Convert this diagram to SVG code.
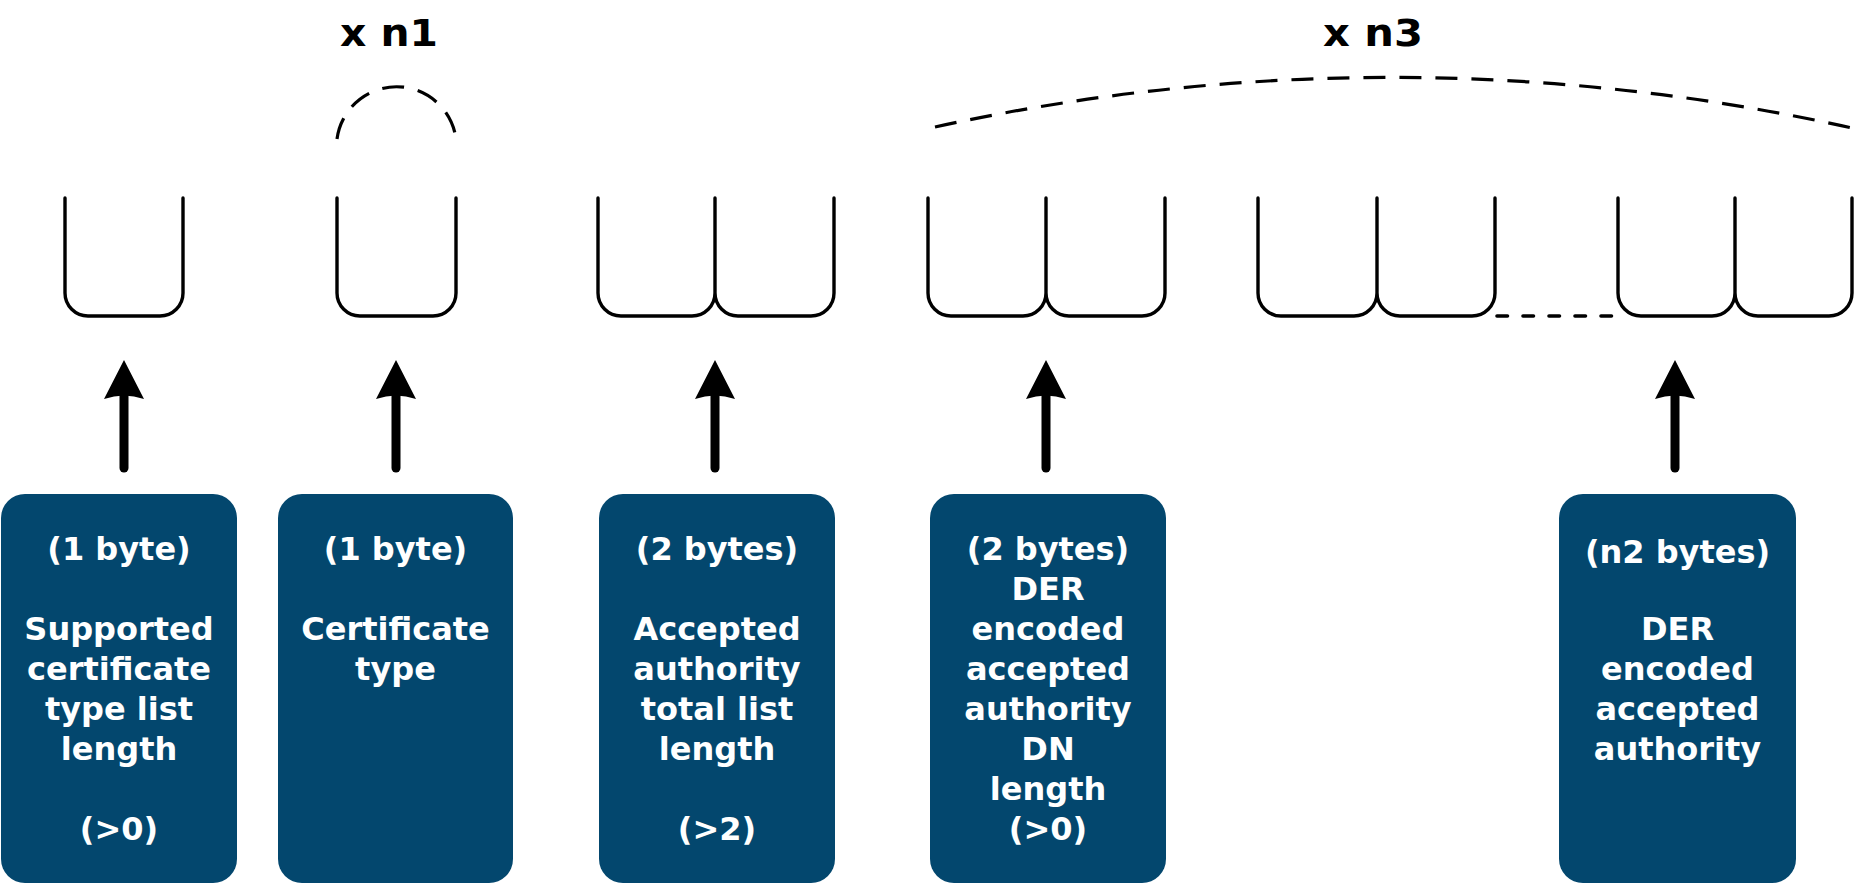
<svg xmlns="http://www.w3.org/2000/svg" width="1856" height="884" viewBox="0 0 1856 884">
<style>
.bucket{fill:none;stroke:#000;stroke-width:3.4;stroke-linecap:round;stroke-linejoin:round}
.dash{fill:none;stroke:#000;stroke-width:3.2;stroke-dasharray:22 14}
.dots{fill:none;stroke:#000;stroke-width:3.6;stroke-linecap:round;stroke-dasharray:10.5 15.5}
.arrow{fill:none;stroke:#000;stroke-width:9;stroke-linecap:round;marker-end:url(#head)}
.box{fill:#03476E}
.lbl{font-family:"DejaVu Sans",Verdana,sans-serif;font-weight:bold;font-size:32px;fill:#fff;text-anchor:middle}
.mult{font-family:"DejaVu Sans",Verdana,sans-serif;font-weight:bold;font-size:37px;fill:#000;text-anchor:middle}
</style>
<defs>
<marker id="head" markerUnits="userSpaceOnUse" viewBox="0 -21 42 42" markerWidth="42" markerHeight="42" refX="3" refY="0" orient="auto">
<path d="M0,-20 L39,0 L0,20 Q7,0 0,-20 Z" fill="#000"/>
</marker>
</defs>

<g id="multipliers">
<text class="mult" x="389" y="46" textLength="98" lengthAdjust="spacingAndGlyphs">x n1</text>
<path class="dash" d="M337,139 A60,60 0 0 1 456,139"/>
<text class="mult" x="1373" y="46" textLength="100" lengthAdjust="spacingAndGlyphs">x n3</text>
<path class="dash" d="M935,127 A2123,2123 0 0 1 1852,128"/>
</g>

<g id="bucket1"><path class="bucket" d="M65,198 V293 A23,23 0 0 0 88,316 H160 A23,23 0 0 0 183,293 V198"/></g>
<g id="bucket2"><path class="bucket" d="M337,198 V293 A23,23 0 0 0 360,316 H433 A23,23 0 0 0 456,293 V198"/></g>
<g id="bucket3"><path class="bucket" d="M598,198 V293 A23,23 0 0 0 621,316 H692 A23,23 0 0 0 715,293 V198 M715,293 A23,23 0 0 0 738,316 H811 A23,23 0 0 0 834,293 V198"/></g>
<g id="bucket4"><path class="bucket" d="M928,198 V293 A23,23 0 0 0 951,316 H1023 A23,23 0 0 0 1046,293 V198 M1046,293 A23,23 0 0 0 1069,316 H1142 A23,23 0 0 0 1165,293 V198"/></g>
<g id="bucket5"><path class="bucket" d="M1258,198 V293 A23,23 0 0 0 1281,316 H1354 A23,23 0 0 0 1377,293 V198 M1377,293 A23,23 0 0 0 1400,316 H1472 A23,23 0 0 0 1495,293 V198"/></g>
<g id="bucket6"><path class="bucket" d="M1618,198 V293 A23,23 0 0 0 1641,316 H1712 A23,23 0 0 0 1735,293 V198 M1735,293 A23,23 0 0 0 1758,316 H1829 A23,23 0 0 0 1852,293 V198"/></g>

<g id="connectors">
<line class="dots" x1="1497" y1="316" x2="1612" y2="316"/>
<line class="arrow" x1="124" y1="468" x2="124" y2="396"/>
<line class="arrow" x1="396" y1="468" x2="396" y2="396"/>
<line class="arrow" x1="715" y1="468" x2="715" y2="396"/>
<line class="arrow" x1="1046" y1="468" x2="1046" y2="396"/>
<line class="arrow" x1="1675" y1="468" x2="1675" y2="396"/>
</g>

<g id="box1">
<rect class="box" x="1" y="494" width="236" height="389" rx="24"/>
<text class="lbl" x="119" y="560">(1 byte)</text>
<text class="lbl" x="119" y="640">Supported</text>
<text class="lbl" x="119" y="680">certificate</text>
<text class="lbl" x="119" y="720">type list</text>
<text class="lbl" x="119" y="760">length</text>
<text class="lbl" x="119" y="840">(&gt;0)</text>
</g>
<g id="box2">
<rect class="box" x="278" y="494" width="235" height="389" rx="24"/>
<text class="lbl" x="395.5" y="560">(1 byte)</text>
<text class="lbl" x="395.5" y="640">Certificate</text>
<text class="lbl" x="395.5" y="680">type</text>
</g>
<g id="box3">
<rect class="box" x="599" y="494" width="236" height="389" rx="24"/>
<text class="lbl" x="717" y="560">(2 bytes)</text>
<text class="lbl" x="717" y="640">Accepted</text>
<text class="lbl" x="717" y="680">authority</text>
<text class="lbl" x="717" y="720">total list</text>
<text class="lbl" x="717" y="760">length</text>
<text class="lbl" x="717" y="840">(&gt;2)</text>
</g>
<g id="box4">
<rect class="box" x="930" y="494" width="236" height="389" rx="24"/>
<text class="lbl" x="1048" y="560">(2 bytes)</text>
<text class="lbl" x="1048" y="600">DER</text>
<text class="lbl" x="1048" y="640">encoded</text>
<text class="lbl" x="1048" y="680">accepted</text>
<text class="lbl" x="1048" y="720">authority</text>
<text class="lbl" x="1048" y="760">DN</text>
<text class="lbl" x="1048" y="800">length</text>
<text class="lbl" x="1048" y="840">(&gt;0)</text>
</g>
<g id="box5">
<rect class="box" x="1559" y="494" width="237" height="389" rx="24"/>
<text class="lbl" x="1677.5" y="563">(n2 bytes)</text>
<text class="lbl" x="1677.5" y="640">DER</text>
<text class="lbl" x="1677.5" y="680">encoded</text>
<text class="lbl" x="1677.5" y="720">accepted</text>
<text class="lbl" x="1677.5" y="760">authority</text>
</g>
</svg>
